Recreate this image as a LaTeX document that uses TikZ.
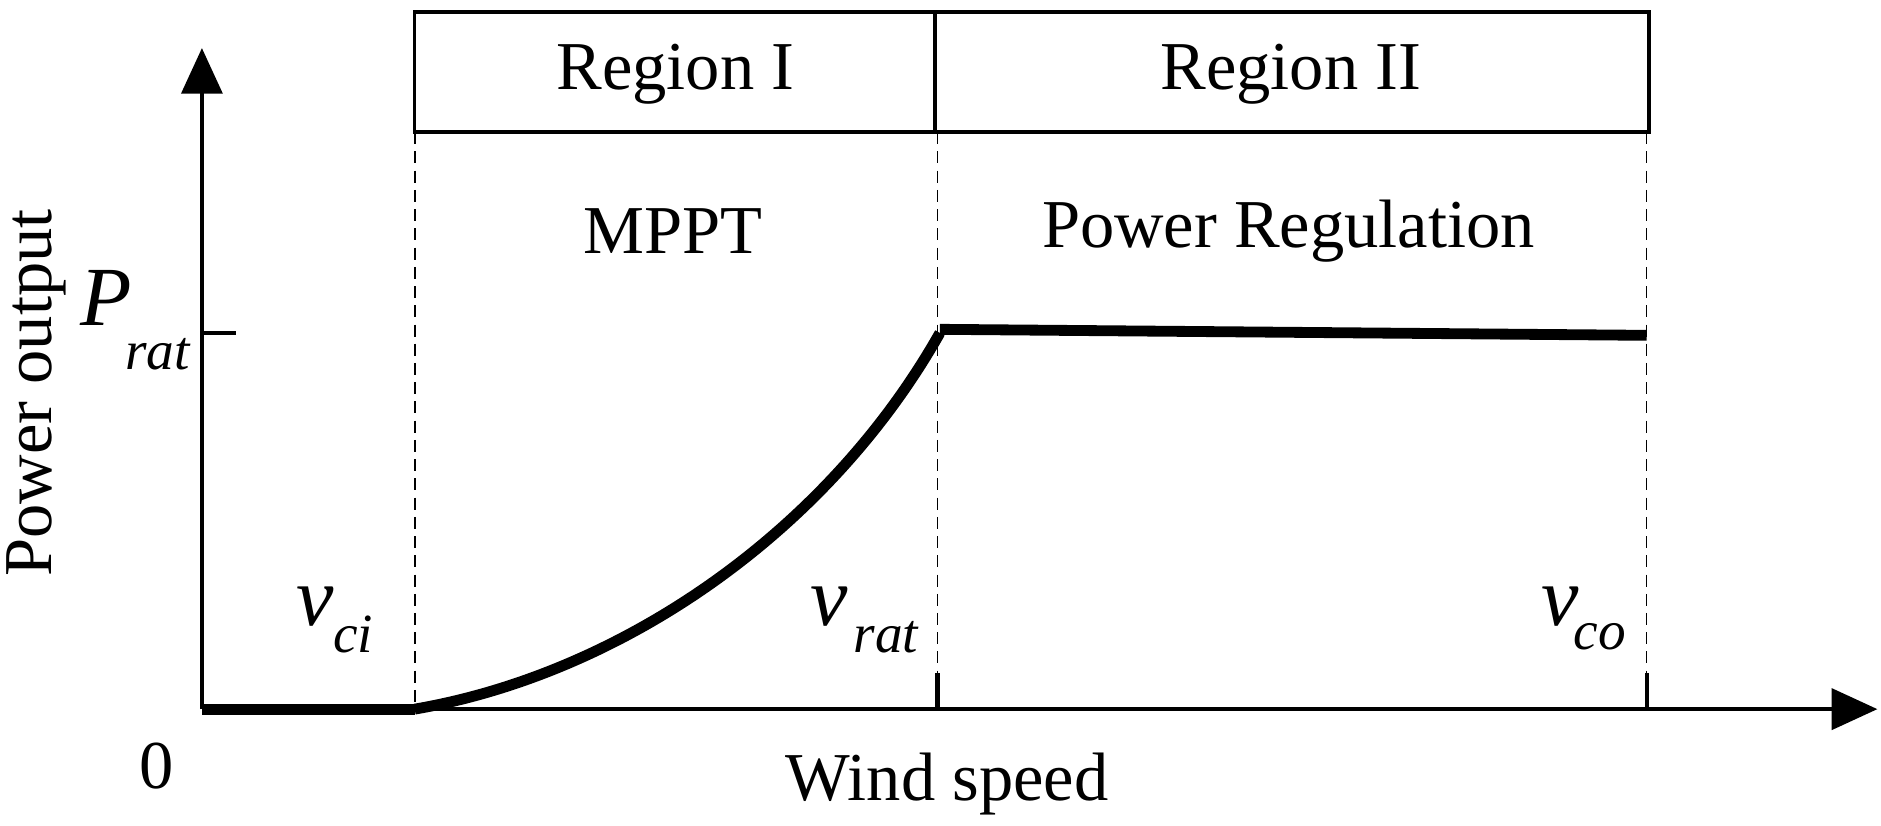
\documentclass[tikz,border=0pt]{standalone}
\usepackage{fontspec}
\setmainfont{Liberation Serif}
\usetikzlibrary{arrows.meta}
\begin{document}
\begin{tikzpicture}[x=1pt,y=-1pt,
  lbl/.style={font=\fontsize{57}{60}\selectfont,inner sep=0},
  vl/.style={font=\fontsize{70}{74}\selectfont\itshape,inner sep=0},
  sb/.style={font=\fontsize{46}{50}\selectfont\itshape,inner sep=0},
  dsh/.style={dashed,line width=1.4pt,dash pattern=on 10pt off 6pt},
  thk/.style={line width=9pt}]
\useasboundingbox (0,0) rectangle (1565,687);
\coordinate (O) at (168,590);
\coordinate (Ytip) at (168,40);
\coordinate (Xtip) at (1562,590);
\draw[line width=3.5pt,-{Triangle[length=38pt,width=34pt]}] (O) -- (Ytip);
\draw[line width=3.5pt,-{Triangle[length=38pt,width=34pt]}] (O) -- (Xtip);
\draw[line width=3pt] (345,10) rectangle (1372,110);
\draw[line width=3pt] (778,10) -- (778,110);
\node[lbl] (r1) at (562,62) {Region I};
\node[lbl] (r2) at (1074,62) {Region II};
\node[lbl] (mppt) at (560,192) {MPPT};
\node[lbl] (pr) at (1072,192) {Power Regulation};
\foreach \x in {345,780,1370} \draw[dsh] (\x,110) -- (\x,590);
\draw[line width=3.5pt] (780,560) -- (780,590);
\draw[line width=3.5pt] (1370,560) -- (1370,590);
\draw[line width=3.5pt] (168,277) -- (196,277);
\draw[thk] (168,590) -- (345,590);
\draw[thk] (345,590) .. controls (520,560) and (690,440) .. (782,277);
\draw[thk] (782,274) -- (1370,279);
\node[vl] (vci) at (262,505) {v};
\node[sb] (vcis) at (294,528) {ci};
\node[vl] (vrat) at (690,505) {v};
\node[sb] (vrats) at (737,530) {rat};
\node[vl] (vco) at (1298,505) {v};
\node[sb] (vcos) at (1331,530) {co};
\node[vl] (P) at (88,248) {P};
\node[sb] (Ps) at (131,295) {rat};
\node[lbl] (zero) at (130,637) {0};
\node[lbl] (ws) at (788,652) {Wind speed};
\node[lbl,rotate=90] (po) at (30,327) {Power output};
\end{tikzpicture}
\end{document}
